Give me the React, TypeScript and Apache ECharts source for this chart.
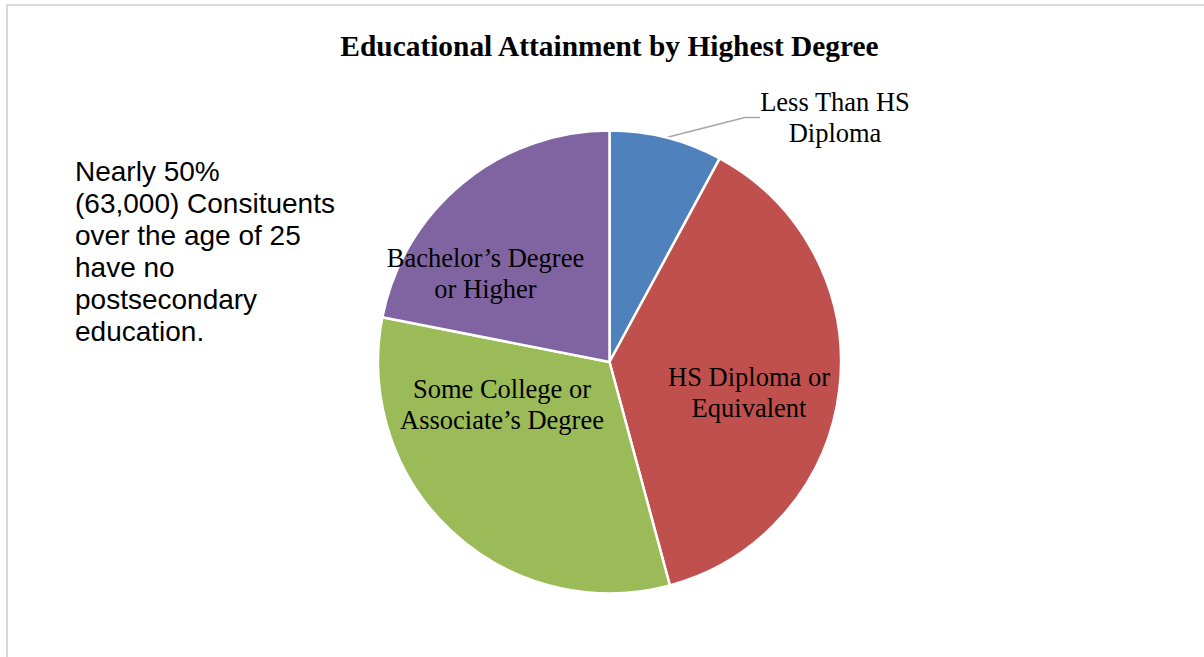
import React, { useEffect, useRef } from "react";
import * as echarts from "echarts";

const categories = [
  "Less Than HS\nDiploma",
  "HS Diploma or\nEquivalent",
  "Some College or\nAssociate’s Degree",
  "Bachelor’s Degree\nor Higher",
];
const shares = [7.9, 37.9, 32.3, 21.9];
const colors = ["#4F81BD", "#C0504D", "#9BBB59", "#8064A2"];
const titleText = "Educational Attainment by Highest Degree";
const noteText =
  "Nearly 50%\n(63,000) Consituents\nover the age of 25\nhave no\npostsecondary\neducation.";

const CX = 609.5;
const CY = 362;
const R = 231.5;
// label block centres, relative to the pie centre
const labelOffsets = [
  [225.5, -244.5],
  [139.5, 30],
  [-107.5, 42.5],
  [-124, -88.5],
];

export default function App() {
  const ref = useRef<HTMLDivElement>(null);
  useEffect(() => {
    if (!ref.current) return;
    const chart = echarts.init(ref.current, undefined, { renderer: "svg" });
    const serif = "'Times New Roman', 'Liberation Serif', serif";
    const sans = "Arial, 'Liberation Sans', sans-serif";
    chart.setOption({
      animation: false,
      backgroundColor: "#ffffff",
      graphic: [
        {
          type: "rect",
          shape: { x: 7, y: 5, width: 1300, height: 800 },
          style: { fill: "none", stroke: "#d9d9d9", lineWidth: 2 },
          silent: true,
        },
        {
          type: "text",
          x: CX,
          y: 46,
          style: {
            text: titleText,
            font: `bold 29.4px ${serif}`,
            fill: "#000",
            align: "center",
            verticalAlign: "middle",
          },
        },
        {
          type: "text",
          x: 75,
          y: 155,
          style: {
            text: noteText,
            font: `28px ${sans}`,
            lineHeight: 32,
            fill: "#000",
            align: "left",
            verticalAlign: "top",
          },
        },
      ],
      series: [
        {
          type: "pie",
          center: [CX, CY],
          radius: R,
          startAngle: 90,
          clockwise: true,
          avoidLabelOverlap: false,
          itemStyle: { borderColor: "#ffffff", borderWidth: 2.5 },
          label: {
            show: true,
            position: "inside",
            fontFamily: serif,
            fontSize: 26.5,
            lineHeight: 31,
            color: "#000",
            align: "center",
            formatter: (p: any) => p.name,
          },
          labelLine: {
            show: true,
            length: 10,
            length2: 15,
            lineStyle: { color: "#a6a6a6", width: 1.5 },
          },
          labelLayout: (p: any) => {
            const o = labelOffsets[p.dataIndex];
            return {
              x: CX + o[0],
              y: CY + o[1],
              align: "center",
              verticalAlign: "middle",
            };
          },
          data: categories.map((name, i) => ({
            name,
            value: shares[i],
            itemStyle: { color: colors[i] },
            label: i === 0 ? { position: "outside" } : undefined,
            labelLine: i === 0 ? undefined : { show: false },
          })),
        },
      ],
    });
    return () => chart.dispose();
  }, []);
  return (
    <div
      ref={ref}
      style={{ position: "fixed", left: 0, top: 0, width: 1204, height: 657 }}
    />
  );
}
